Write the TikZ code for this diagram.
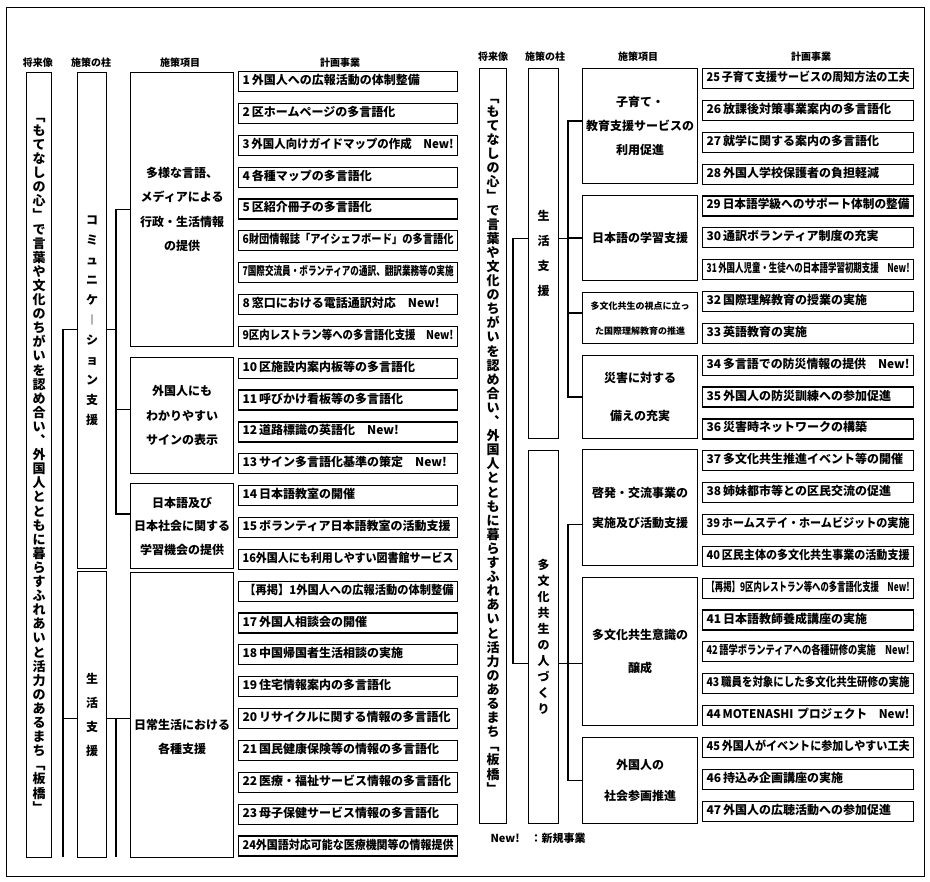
\documentclass[tikz,border=0pt]{standalone}
\usepackage{fontspec}
\setmainfont{Noto Sans CJK JP}
\usepackage{graphicx}
\usetikzlibrary{positioning}

% vertical (tate) text: one character per line
\makeatletter
\newcommand\tate[2]{\vbox{\baselineskip=#1\lineskiplimit=-100pt\lineskip=0pt
  \@tfor\tate@c:=#2\do{\hbox to 1em{\hss\tate@c\hss}}}}
\makeatother
% squeeze a line into the box width when it is too long
\newsavebox\fitbox
\newcommand\fit[1]{\noindent\sbox\fitbox{#1}\ifdim\wd\fitbox>\hsize
  \resizebox{\hsize}{\height}{\usebox\fitbox}\else\usebox\fitbox\fi}

\begin{document}
\begin{tikzpicture}[x=1pt, y=-1pt, node distance=10.65pt,
    box/.style={draw, line width=1.2pt},
    link/.style={line width=1.2pt},
    head/.style={font=\bfseries\fontsize{10}{12}\selectfont},
    vis/.style={box, anchor=north west, minimum width=25pt, inner sep=0pt, font=\bfseries\fontsize{13}{14}\selectfont},
    pillar/.style={box, anchor=north west, minimum width=29pt, inner sep=0pt, font=\bfseries\fontsize{12}{14}\selectfont},
    item/.style={box, anchor=north west, minimum width=103pt, inner sep=1pt, align=center, font=\bfseries\fontsize{12}{24.5}\selectfont},
    itemr/.style={item, minimum width=115pt},
    pjl/.style={box, text width=211pt, text height=9pt, text depth=3pt, align=left, minimum height=20pt, inner xsep=4pt, inner ysep=0pt, font=\bfseries\fontsize{12}{14}\selectfont},
    pjr/.style={pjl, text width=203pt}]
    \useasboundingbox (0,0) rectangle (930,882);
    \draw[line width=1pt] (6,8) rectangle (924,876);

    % ---- left half ----
    \node[head] (hL1) at (38,63) {将来像};
    \node[head] (hL2) at (91,63) {施策の柱};
    \node[head] (hL3) at (180,63) {施策項目};
    \node[head] (hL4) at (340,63) {計画事業};

    \node[vis, minimum height=785pt] (vL) at (26,72) {\tate{14.1pt}{﹁もてなしの心﹂で言葉や文化のちがいを認め合い︑外国人とともに暮らすふれあいと活力のあるまち﹁板橋﹂}};
    \node[pillar, minimum height=496pt] (pc) at (77,72) {\tate{20pt}{コミュニケ︱ション支援}};
    \node[pillar, minimum height=286pt] (pl) at (77,571) {\tate{24pt}{生活支援}};

    \node[item, minimum height=274pt] (i1) at (130,72) {多様な言語、\\メディアによる\\行政・生活情報\\の提供};
    \node[item, minimum height=116pt] (i2) at (130,357) {外国人にも\\わかりやすい\\サインの表示};
    \node[item, minimum height=85pt, font=\bfseries\fontsize{12}{23.5}\selectfont] (i3) at (130,483) {日本語及び\\日本社会に関する\\学習機会の提供};
    \node[item, minimum height=285pt] (i4) at (130,572) {};
    \node[align=center, font=\bfseries\fontsize{12}{24}\selectfont] (i4t) at ([yshift=-22pt]i4.center) {日常生活における\\各種支援};

    \node[pjl, anchor=north west] (a1) at (238,71) {\fit{1\,外国人への広報活動の体制整備}};
    \node[pjl, below=of a1] (a2) {\fit{2\,区ホームページの多言語化}};
    \node[pjl, below=of a2] (a3) {\fit{3\,外国人向けガイドマップの作成\quad New!}};
    \node[pjl, below=of a3] (a4) {\fit{4\,各種マップの多言語化}};
    \node[pjl, below=of a4] (a5) {\fit{5\,区紹介冊子の多言語化}};
    \node[pjl, below=of a5] (a6) {\fit{6財団情報誌「アイシェフボード」の多言語化}};
    \node[pjl, below=of a6] (a7) {\fit{7国際交流員・ボランティアの通訳、翻訳業務等の実施}};
    \node[pjl, below=of a7] (a8) {\fit{8\,窓口における電話通訳対応\quad New!}};
    \node[pjl, below=of a8] (a9) {\fit{9区内レストラン等への多言語化支援\quad New!}};
    \node[pjl, below=of a9] (a10) {\fit{10\,区施設内案内板等の多言語化}};
    \node[pjl, below=of a10] (a11) {\fit{11\,呼びかけ看板等の多言語化}};
    \node[pjl, below=of a11] (a12) {\fit{12\,道路標識の英語化\quad New!}};
    \node[pjl, below=of a12] (a13) {\fit{13\,サイン多言語化基準の策定\quad New!}};
    \node[pjl, below=of a13] (a14) {\fit{14\,日本語教室の開催}};
    \node[pjl, below=of a14] (a15) {\fit{15\,ボランティア日本語教室の活動支援}};
    \node[pjl, below=of a15] (a16) {\fit{16外国人にも利用しやすい図書館サービス}};
    \node[pjl, below=of a16] (a16b) {\fit{\,【再掲】1外国人への広報活動の体制整備}};
    \node[pjl, below=of a16b] (a17) {\fit{17\,外国人相談会の開催}};
    \node[pjl, below=of a17] (a18) {\fit{18\,中国帰国者生活相談の実施}};
    \node[pjl, below=of a18] (a19) {\fit{19\,住宅情報案内の多言語化}};
    \node[pjl, below=of a19] (a20) {\fit{20\,リサイクルに関する情報の多言語化}};
    \node[pjl, below=of a20] (a21) {\fit{21\,国民健康保険等の情報の多言語化}};
    \node[pjl, below=of a21] (a22) {\fit{22\,医療・福祉サービス情報の多言語化}};
    \node[pjl, below=of a22] (a23) {\fit{23\,母子保健サービス情報の多言語化}};
    \node[pjl, below=of a23] (a24) {\fit{24外国語対応可能な医療機関等の情報提供}};

    \coordinate (vbus) at (63,857);
    \coordinate (cbus) at (116,857);
    \draw[link] ([yshift=-9pt]pc.west) -- ++(-14,0) -- (vbus);
    \draw[link] ([yshift=-4pt]pl.west) -- ([yshift=-4pt]pl.west -| vbus);
    \draw[link] (i1.west) -- ++(-14,0) |- ([yshift=12pt]i3.west);
    \draw[link] ([yshift=6pt]i2.west) -- ++(-14,0);
    \draw[link] ([yshift=-9pt]pc.east) -- ++(10,0);
    \draw[link] ([yshift=-4pt]pl.east) -- ([yshift=-4pt]pl.east -| i4.west);
    \draw[link] ([yshift=-4pt]pl.east -| cbus) -- (cbus);

    % ---- right half ----
    \node[head] (hR1) at (493,57) {将来像};
    \node[head] (hR2) at (545,57) {施策の柱};
    \node[head] (hR3) at (638,57) {施策項目};
    \node[head] (hR4) at (811,57) {計画事業};

    \node[vis, minimum width=27pt, minimum height=755pt] (vR) at (479,68) {\tate{14.1pt}{﹁もてなしの心﹂で言葉や文化のちがいを認め合い︑外国人とともに暮らすふれあいと活力のあるまち﹁板橋﹂}};
    \node[pillar, minimum width=30pt, minimum height=370pt] (plr) at (528,68) {\tate{25pt}{生活支援}};
    \node[pillar, minimum width=30pt, minimum height=373pt] (pmr) at (528,450) {\tate{16pt}{多文化共生の人づくり}};

    \node[itemr, minimum height=115pt, font=\bfseries\fontsize{12}{24}\selectfont] (r1) at (582,68) {子育て・\\教育支援サービスの\\利用促進};
    \node[itemr, minimum height=85pt] (r2) at (582,195) {日本語の学習支援};
    \node[itemr, minimum height=51pt, font=\bfseries\fontsize{9}{25}\selectfont] (r3) at (582,292) {多文化共生の視点に立っ\\た国際理解教育の推進};
    \node[itemr, minimum height=83pt, font=\bfseries\fontsize{12}{38}\selectfont] (r4) at (582,355) {災害に対する\\備えの充実};
    \node[itemr, minimum height=116pt, font=\bfseries\fontsize{12}{30}\selectfont] (r5) at (582,449) {啓発・交流事業の\\実施及び活動支援};
    \node[itemr, minimum height=148pt, font=\bfseries\fontsize{12}{33}\selectfont] (r6) at (582,577) {多文化共生意識の\\醸成};
    \node[itemr, minimum height=86pt, font=\bfseries\fontsize{12}{31}\selectfont] (r7) at (582,737) {外国人の\\社会参画推進};

    \node[pjr, anchor=north west] (b25) at (702,68) {\fit{25\,子育て支援サービスの周知方法の工夫}};
    \node[pjr, below=of b25] (b26) {\fit{26\,放課後対策事業案内の多言語化}};
    \node[pjr, below=of b26] (b27) {\fit{27\,就学に関する案内の多言語化}};
    \node[pjr, below=of b27] (b28) {\fit{28\,外国人学校保護者の負担軽減}};
    \node[pjr, below=of b28] (b29) {\fit{29\,日本語学級へのサポート体制の整備}};
    \node[pjr, below=of b29] (b30) {\fit{30\,通訳ボランティア制度の充実}};
    \node[pjr, below=of b30] (b31) {\fit{31\,外国人児童・生徒への日本語学習初期支援\quad New!}};
    \node[pjr, below=of b31] (b32) {\fit{32\,国際理解教育の授業の実施}};
    \node[pjr, below=of b32] (b33) {\fit{33\,英語教育の実施}};
    \node[pjr, below=of b33] (b34) {\fit{34\,多言語での防災情報の提供\quad New!}};
    \node[pjr, below=of b34] (b35) {\fit{35\,外国人の防災訓練への参加促進}};
    \node[pjr, below=of b35] (b36) {\fit{36\,災害時ネットワークの構築}};
    \node[pjr, below=of b36] (b37) {\fit{37\,多文化共生推進イベント等の開催}};
    \node[pjr, below=of b37] (b38) {\fit{38\,姉妹都市等との区民交流の促進}};
    \node[pjr, below=of b38] (b39) {\fit{39\,ホームステイ・ホームビジットの実施}};
    \node[pjr, below=of b39] (b40) {\fit{40\,区民主体の多文化共生事業の活動支援}};
    \node[pjr, below=of b40] (b40b) {\fit{【再掲】9区内レストラン等への多言語化支援\quad New!}};
    \node[pjr, below=of b40b] (b41) {\fit{41\,日本語教師養成講座の実施}};
    \node[pjr, below=of b41] (b42) {\fit{42\,語学ボランティアへの各種研修の実施\quad New!}};
    \node[pjr, below=of b42] (b43) {\fit{43\,職員を対象にした多文化共生研修の実施}};
    \node[pjr, below=of b43] (b44) {\fit{44\,MOTENASHI プロジェクト\quad New!}};
    \node[pjr, below=of b44] (b45) {\fit{45\,外国人がイベントに参加しやすい工夫}};
    \node[pjr, below=of b45] (b46) {\fit{46\,持込み企画講座の実施}};
    \node[pjr, below=of b46] (b47) {\fit{47\,外国人の広聴活動への参加促進}};

    \node[anchor=west, font=\bfseries\fontsize{11}{13}\selectfont] (leg) at (487,838) {New!\quad ：新規事業};

    \draw[link] ([yshift=15pt]plr.west) -- ++(-15,0) |- ([yshift=-26pt]pmr.west);
    \draw[link] ([yshift=5pt]r1.west) -- ++(-14,0) |- (r4.west);
    \draw[link] (r2.west) -- ++(-14,0);
    \draw[link] ([yshift=5pt]r3.west) -- ++(-14,0);
    \draw[link] ([yshift=15pt]plr.east) -- ++(10,0);
    \draw[link] ([yshift=-17pt]r5.west) -- ++(-14,0) |- (r7.west);
    \draw[link] ([yshift=-26pt]pmr.east) -- ([yshift=-26pt]pmr.east -| r6.west);
\end{tikzpicture}
\end{document}
